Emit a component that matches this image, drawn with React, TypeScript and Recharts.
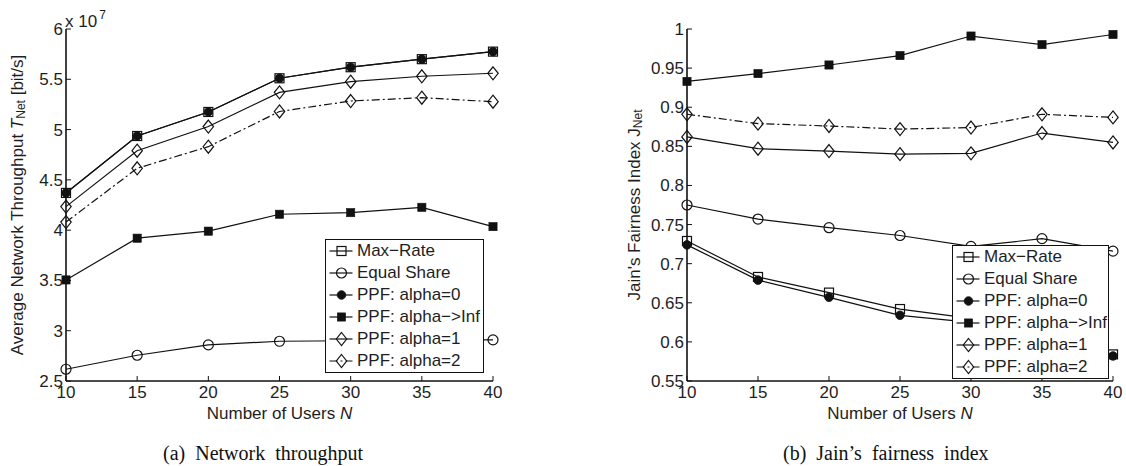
import React from 'react';
import { LineChart, Line, XAxis, YAxis, Legend } from 'recharts';

// ---------- data ----------
const USERS = [10, 15, 20, 25, 30, 35, 40];
const X_TICKS = [10, 15, 20, 25, 30, 35, 40];

// (a) Average network throughput, in units of 10^7 bit/s
const TP_MAX_RATE = [4.37, 4.936, 5.175, 5.51, 5.62, 5.7, 5.775];
const TP_EQUAL_SHARE = [2.617, 2.756, 2.859, 2.895, 2.9, 2.91, 2.909];
const TP_ALPHA0 = [4.37, 4.936, 5.175, 5.51, 5.62, 5.7, 5.775];
const TP_ALPHA_INF = [3.505, 3.92, 3.99, 4.158, 4.174, 4.227, 4.035];
const TP_ALPHA1 = [4.234, 4.79, 5.03, 5.37, 5.476, 5.53, 5.56];
const TP_ALPHA2 = [4.08, 4.615, 4.83, 5.18, 5.284, 5.317, 5.277];
const TP_TICKS = [2.5, 3, 3.5, 4, 4.5, 5, 5.5, 6];

// (b) Jain's fairness index
const J_MAX_RATE = [0.729, 0.683, 0.663, 0.642, 0.63, 0.606, 0.584];
const J_EQUAL_SHARE = [0.775, 0.757, 0.746, 0.736, 0.722, 0.732, 0.716];
const J_ALPHA0 = [0.724, 0.679, 0.657, 0.634, 0.625, 0.603, 0.582];
const J_ALPHA_INF = [0.933, 0.943, 0.954, 0.966, 0.991, 0.98, 0.993];
const J_ALPHA1 = [0.862, 0.847, 0.844, 0.84, 0.841, 0.867, 0.855];
const J_ALPHA2 = [0.891, 0.879, 0.876, 0.872, 0.874, 0.891, 0.887];
const J_TICKS = [0.55, 0.6, 0.65, 0.7, 0.75, 0.8, 0.85, 0.9, 0.95, 1];

const SERIES_NAMES = [
  'Max−Rate',
  'Equal Share',
  'PPF: alpha=0',
  'PPF: alpha−>Inf',
  'PPF: alpha=1',
  'PPF: alpha=2',
];

// ---------- styles ----------
const INK = '#111';
const TEXT = '#1e1e1e';
const SANS = '"Liberation Sans", Arial, Helvetica, sans-serif';
const SERIF = '"Liberation Serif", "Times New Roman", serif';
const DASH_DOT = '8 3 2 3';

type MarkerKind = 'square' | 'circle' | 'dot' | 'filledSquare' | 'diamond';

const SERIES_STYLE: { key: string; marker: MarkerKind; dash?: string }[] = [
  { key: 'maxRate', marker: 'square' },
  { key: 'equalShare', marker: 'circle' },
  { key: 'alpha0', marker: 'dot' },
  { key: 'alphaInf', marker: 'filledSquare' },
  { key: 'alpha1', marker: 'diamond' },
  { key: 'alpha2', marker: 'diamond', dash: DASH_DOT },
];

function Marker({ kind, cx, cy }: { kind: MarkerKind; cx: number; cy: number }) {
  if (cx == null || cy == null || isNaN(cx) || isNaN(cy)) return null;
  switch (kind) {
    case 'square':
      return <rect x={cx - 4.5} y={cy - 4.5} width={9} height={9} fill="none" stroke={INK} strokeWidth={1.2} />;
    case 'circle':
      return <circle cx={cx} cy={cy} r={5} fill="none" stroke={INK} strokeWidth={1.2} />;
    case 'dot':
      return <circle cx={cx} cy={cy} r={4.3} fill={INK} stroke={INK} strokeWidth={0.8} />;
    case 'filledSquare':
      return <rect x={cx - 4.1} y={cy - 4.1} width={8.2} height={8.2} fill={INK} stroke={INK} strokeWidth={0.6} />;
    case 'diamond':
    default:
      return (
        <path
          d={`M${cx},${cy - 6.5} L${cx + 5.2},${cy} L${cx},${cy + 6.5} L${cx - 5.2},${cy} Z`}
          fill="none"
          stroke={INK}
          strokeWidth={1.2}
        />
      );
  }
}

function buildRows(cols: number[][]) {
  return USERS.map((n, i) => {
    const row: Record<string, number> = { n };
    SERIES_STYLE.forEach((s, j) => {
      row[s.key] = cols[j][i];
    });
    return row;
  });
}

const throughputRows = buildRows([TP_MAX_RATE, TP_EQUAL_SHARE, TP_ALPHA0, TP_ALPHA_INF, TP_ALPHA1, TP_ALPHA2]);
const fairnessRows = buildRows([J_MAX_RATE, J_EQUAL_SHARE, J_ALPHA0, J_ALPHA_INF, J_ALPHA1, J_ALPHA2]);

function LegendBox({ width }: { width: number }) {
  return (
    <div
      style={{
        border: `1.5px solid ${INK}`,
        background: '#fff',
        fontFamily: SANS,
        fontSize: 17,
        color: TEXT,
        width,
        boxSizing: 'border-box',
      }}
    >
      {SERIES_STYLE.map((s, i) => (
        <div key={s.key} style={{ height: 22, display: 'flex', alignItems: 'center', whiteSpace: 'nowrap' }}>
          <svg width={31} height={22} style={{ display: 'block', flex: 'none' }}>
            <line x1={3.5} x2={26.5} y1={11} y2={11} stroke={INK} strokeWidth={1.2} strokeDasharray={s.dash} />
            <Marker kind={s.marker} cx={15.5} cy={11} />
          </svg>
          <span style={{ lineHeight: '22px' }}>{SERIES_NAMES[i]}</span>
        </div>
      ))}
    </div>
  );
}

const tickStyle = { fill: TEXT, fontSize: 17, fontFamily: SANS };
const axisLineStyle = { stroke: INK, strokeWidth: 1.6 };
const tickLineStyle = { stroke: INK, strokeWidth: 1 };

type PanelProps = {
  rows: Record<string, number>[];
  yDomain: [number, number];
  yTicks: number[];
  yAxisWidth: number;
  marginRight: number;
  yLabel: (props: any) => React.ReactNode;
  legendLeft: number;
  legendTop: number;
  legendWidth: number;
  legendHeight: number;
};

const xLabel = (props: any) => {
  const vb = props.viewBox || {};
  const cx = vb.x + vb.width / 2;
  return (
    <text x={cx} y={vb.y + 38} textAnchor="middle" fill={TEXT} fontSize={17} fontFamily={SANS}>
      Number of Users <tspan fontStyle="italic">N</tspan>
    </text>
  );
};

function Panel(p: PanelProps) {
  return (
    <LineChart
      width={563}
      height={466}
      data={p.rows}
      margin={{ top: 29, right: p.marginRight, bottom: 0, left: 0 }}
    >
      <XAxis
        xAxisId="bottom"
        dataKey="n"
        type="number"
        orientation="bottom"
        domain={[10, 40]}
        ticks={X_TICKS}
        interval={0}
        height={85}
        tickSize={-5}
        tickMargin={10}
        axisLine={axisLineStyle}
        tickLine={tickLineStyle}
        tick={tickStyle}
        label={xLabel}
      />
      <XAxis
        xAxisId="top"
        dataKey="n"
        type="number"
        orientation="top"
        domain={[10, 40]}
        ticks={X_TICKS}
        interval={0}
        height={0}
        tickSize={-5}
        axisLine={axisLineStyle}
        tickLine={tickLineStyle}
        tick={false}
      />
      <YAxis
        yAxisId="left"
        type="number"
        orientation="left"
        domain={p.yDomain}
        ticks={p.yTicks}
        interval={0}
        width={p.yAxisWidth}
        tickSize={-5}
        tickMargin={8}
        axisLine={axisLineStyle}
        tickLine={tickLineStyle}
        tick={tickStyle}
        label={p.yLabel}
      />
      <YAxis
        yAxisId="right"
        type="number"
        orientation="right"
        domain={p.yDomain}
        ticks={p.yTicks}
        interval={0}
        width={0}
        tickSize={-5}
        axisLine={axisLineStyle}
        tickLine={tickLineStyle}
        tick={false}
      />
      {SERIES_STYLE.map((s, i) => (
        <Line
          key={s.key}
          xAxisId="bottom"
          yAxisId="left"
          type="linear"
          dataKey={s.key}
          name={SERIES_NAMES[i]}
          stroke={INK}
          strokeWidth={1.2}
          strokeDasharray={s.dash}
          isAnimationActive={false}
          activeDot={false}
          dot={(d: any) => <Marker key={`${s.key}-${d.index}`} kind={s.marker} cx={d.cx} cy={d.cy} />}
        />
      ))}
      <Legend
        layout="vertical"
        align="center"
        verticalAlign="middle"
        wrapperStyle={{ left: p.legendLeft, top: p.legendTop, width: p.legendWidth, height: p.legendHeight }}
        content={() => <LegendBox width={p.legendWidth} />}
      />
    </LineChart>
  );
}

const throughputYLabel = () => (
  <text
    transform="translate(17,205) rotate(-90)"
    textAnchor="middle"
    dominantBaseline="central"
    fill={TEXT}
    fontSize={17}
    fontFamily={SANS}
  >
    Average Network Throughput <tspan fontStyle="italic">T</tspan>
    <tspan fontSize={12} dy={4}>Net</tspan>
    <tspan dy={-4}> [bit/s]</tspan>
  </text>
);

const fairnessYLabel = () => (
  <text
    transform="translate(71,205) rotate(-90)"
    textAnchor="middle"
    dominantBaseline="central"
    fill={TEXT}
    fontSize={17}
    fontFamily={SANS}
  >
    Jain's Fairness Index J<tspan fontSize={12} dy={4}>Net</tspan>
  </text>
);

export default function App() {
  return (
    <div style={{ position: 'absolute', left: 0, top: 0, width: 1126, height: 466, background: '#fff', overflow: 'hidden' }}>
      <div style={{ position: 'absolute', left: 0, top: 0 }}>
        <Panel
          rows={throughputRows}
          yDomain={[2.5, 6]}
          yTicks={TP_TICKS}
          yAxisWidth={66}
          marginRight={70}
          yLabel={throughputYLabel}
          legendLeft={325}
          legendTop={239}
          legendWidth={159}
          legendHeight={135}
        />
      </div>
      <div style={{ position: 'absolute', left: 563, top: 0 }}>
        <Panel
          rows={fairnessRows}
          yDomain={[0.55, 1]}
          yTicks={J_TICKS}
          yAxisWidth={124}
          marginRight={13}
          yLabel={fairnessYLabel}
          legendLeft={389}
          legendTop={245}
          legendWidth={157}
          legendHeight={134}
        />
      </div>
      <svg width={1126} height={466} style={{ position: 'absolute', left: 0, top: 0, pointerEvents: 'none' }}>
        <text x={65} y={27} fill={TEXT} fontSize={17} fontFamily={SANS}>
          x 10<tspan dx={2} dy={-8} fontSize={12}>7</tspan>
        </text>
        <text x={163} y={460} fill={INK} fontSize={20} fontFamily={SERIF} style={{ wordSpacing: 5 }}>
          (a) Network throughput
        </text>
        <text x={783} y={460} fill={INK} fontSize={20} fontFamily={SERIF} style={{ wordSpacing: 5 }}>
          (b) Jain’s fairness index
        </text>
      </svg>
    </div>
  );
}
